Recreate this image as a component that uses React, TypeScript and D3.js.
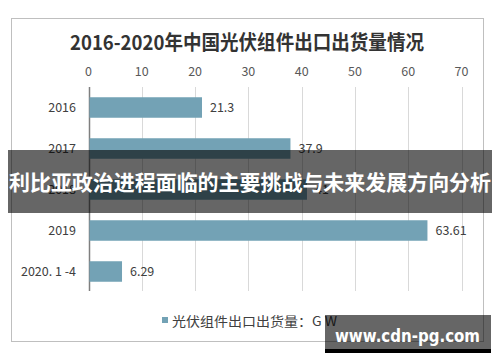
import React from "react";
import * as d3 from "d3";

const categories = ["2016", "2017", "2018", "2019", "2020. 1 -4"];
const values = [21.3, 37.9, 41, 63.61, 6.29];
const valueLabels = ["21.3", "37.9", "41", "63.61", "6.29"];
const ticks = [0, 10, 20, 30, 40, 50, 60, 70];
const title = "2016-2020年中国光伏组件出口出货量情况";
const legendLabel = "光伏组件出口出货量：G W";
const overlayText = "利比亚政治进程面临的主要挑战与未来发展方向分析";
const watermark = "www.cdn-pg.com";

const W = 500;
const H = 362;
const FONT = "'Noto Sans CJK SC', 'Noto Sans', sans-serif";

export default function App() {
  const x = d3.scaleLinear().domain([0, 70]).range([88.5, 461.5]);
  const y = d3.scaleBand().domain(categories).range([87, 292]).paddingInner(0.5).paddingOuter(0.25);
  return (
    <svg width={W} height={H} style={{ position: "fixed", left: 0, top: 0 }}>
      <rect x={0} y={0} width={W} height={H} fill="#fff" />
      <rect x={11.5} y={18.5} width={472} height={323} fill="#fff" stroke="#bfbfbf" strokeWidth={1} />
      <text x={247} y={50} textAnchor="middle" fontFamily={FONT} fontWeight="bold" fontSize={20} fill="#333"
        textLength={354} lengthAdjust="spacingAndGlyphs">{title}</text>
      {ticks.map((t) => (
        <g key={t}>
          <line x1={Math.round(x(t)) + 0.5} x2={Math.round(x(t)) + 0.5} y1={87} y2={291}
            stroke={t === 0 ? "#7f7f7f" : "#d9d9d9"} strokeWidth={t === 0 ? 1.5 : 1} />
          <text x={x(t)} y={76} textAnchor="middle" fontFamily={FONT} fontSize={12.5} fill="#595959">{t}</text>
        </g>
      ))}
      {categories.map((c, i) => (
        <g key={c}>
          <rect x={x(0) + 1} y={y(c)} width={x(values[i]) - x(0) - 1} height={y.bandwidth()} fill="#73a2b5" />
          <text x={76} y={(y(c) as number) + y.bandwidth() / 2} dy="0.35em" textAnchor="end"
            fontFamily={FONT} fontSize={12.5} fill="#404040">{c}</text>
          <text x={x(values[i]) + 8} y={(y(c) as number) + y.bandwidth() / 2} dy="0.35em"
            fontFamily={FONT} fontSize={12.5} fill="#404040">{valueLabels[i]}</text>
        </g>
      ))}
      <rect x={162} y={317} width={6} height={6} fill="#73a2b5" />
      <text x={172} y={321} dy="0.35em" fontFamily={FONT} fontSize={13} fill="#404040"
        textLength={165} lengthAdjust="spacingAndGlyphs">{legendLabel}</text>
      <rect x={8} y={150} width={484} height={63} fill="rgba(0,0,0,0.6)" />
      <text x={250} y={183} dy="0.35em" textAnchor="middle" fontFamily={FONT} fontWeight="bold" fontSize={21}
        fill="#fff" textLength={482} lengthAdjust="spacingAndGlyphs">{overlayText}</text>
      <rect x={325} y={315} width={166} height={34} fill="rgba(0,0,0,0.6)" />
      <rect x={325} y={349} width={166} height={4} fill="#000" />
      <text x={335} y={342} fontFamily="'DejaVu Sans', sans-serif" fontWeight="bold" fontSize={18} fill="#fff"
        textLength={145} lengthAdjust="spacingAndGlyphs">{watermark}</text>
    </svg>
  );
}
